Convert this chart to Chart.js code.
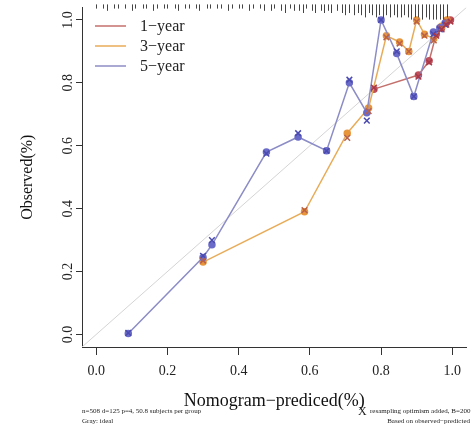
<!DOCTYPE html>
<html>
<head>
<meta charset="utf-8">
<script src="https://cdn.jsdelivr.net/npm/chart.js@4"></script>
<style>
html, body { margin: 0; padding: 0; background: #fff; }
#wrap { width: 472px; height: 432px; position: relative; }
</style>
</head>
<body>
<div id="wrap"><canvas id="calChart"></canvas></div>
<script>
// axis ticks
const xTicks = [0, 0.2, 0.4, 0.6, 0.8, 1.0];
const yTicks = [0, 0.2, 0.4, 0.6, 0.8, 1.0];
const seriesNames = ['1\u2212year', '3\u2212year', '5\u2212year'];

// 1-year: predicted, observed (dots), optimism corrected (x)
const pred1 = [0.78, 0.905, 0.935, 0.955, 0.97, 0.983, 0.995];
const obs1  = [0.78, 0.825, 0.87, 0.955, 0.975, 0.99, 1.0];
const cor1  = [0.785, 0.82, 0.865, 0.95, 0.97, 0.985, 0.995];

// 3-year
const pred3 = [0.30, 0.585, 0.705, 0.765, 0.815, 0.852, 0.878, 0.90, 0.922, 0.948, 0.97, 0.985];
const obs3  = [0.23, 0.39, 0.64, 0.72, 0.95, 0.93, 0.90, 1.0, 0.955, 0.94, 0.98, 1.0];
const cor3  = [0.235, 0.395, 0.625, 0.71, 0.945, 0.925, 0.90, 0.995, 0.95, 0.935, 0.975, 0.995];

// 5-year
const pred5 = [0.09, 0.30, 0.325, 0.478, 0.567, 0.647, 0.711, 0.76, 0.80, 0.844, 0.892, 0.947, 0.965, 0.98];
const obs5  = [0.003, 0.245, 0.285, 0.58, 0.628, 0.584, 0.80, 0.705, 1.0, 0.893, 0.757, 0.962, 0.975, 0.99];
const cor5  = [0.005, 0.25, 0.30, 0.575, 0.64, 0.584, 0.81, 0.68, 1.0, 0.90, 0.757, 0.955, 0.97, 0.985];

// distribution of predicted values (rug on top)
const rugX = [0.00, 0.02, 0.03, 0.05, 0.06, 0.08, 0.10, 0.11, 0.13, 0.14, 0.16, 0.17, 0.19, 0.20, 0.22, 0.23,
              0.25, 0.26, 0.28, 0.29, 0.31, 0.32, 0.34, 0.35, 0.37, 0.38, 0.40, 0.41, 0.43, 0.44, 0.46, 0.47,
              0.49, 0.50, 0.52, 0.53, 0.545, 0.555, 0.57, 0.58, 0.59, 0.605, 0.615, 0.63, 0.64, 0.65, 0.66,
              0.675, 0.69, 0.70, 0.71, 0.725, 0.735, 0.745, 0.755, 0.765, 0.775, 0.785, 0.795, 0.805, 0.815,
              0.825, 0.835, 0.845, 0.855, 0.865, 0.875, 0.885, 0.895, 0.905, 0.915, 0.925, 0.935, 0.945,
              0.955, 0.965, 0.975, 0.985];
const rugN = [1, 1, 2, 1, 1, 1, 2, 1, 1, 1, 2, 1, 1, 1, 1, 2,
              1, 1, 1, 2, 1, 1, 1, 1, 2, 1, 1, 1, 2, 1, 1, 2,
              2, 1, 2, 3, 1, 2, 2, 3, 1, 2, 3, 2, 3, 2, 3,
              2, 3, 4, 3, 4, 3, 4, 5, 3, 4, 5, 4, 5, 4,
              5, 4, 5, 5, 4, 5, 6, 5, 5, 6, 5, 6, 6,
              6, 6, 6, 5];

const lineColors = ['#C4706C', '#E8AC58', '#8C8CC6'];
const dotColors = ['#C0505A', '#E8963C', '#6A6AC8'];
const crossColors = ['#A83848', '#B8604A', '#4A4AB0'];

const pts = (xs, ys) => xs.map((x, i) => ({ x: x, y: ys[i] }));
const serif = "'Liberation Serif', 'DejaVu Serif', serif";

const rugPlugin = {
    id: 'rug',
    afterDatasetsDraw(chart) {
        const ctx = chart.ctx, xs = chart.scales.x, top = chart.chartArea.top - 3;
        ctx.save();
        ctx.strokeStyle = '#444';
        ctx.lineWidth = 1;
        rugX.forEach((v, i) => {
            const px = Math.round(xs.getPixelForValue(v)) + 0.5;
            ctx.beginPath();
            ctx.moveTo(px, top);
            ctx.lineTo(px, top + 2 + rugN[i] * 2.2);
            ctx.stroke();
        });
        ctx.restore();
    }
};

const legendPlugin = {
    id: 'innerLegend',
    afterDraw(chart) {
        const ctx = chart.ctx;
        ctx.save();
        ctx.font = '16px ' + serif;
        ctx.textBaseline = 'middle';
        seriesNames.forEach((name, i) => {
            const y = 26 + i * 20;
            ctx.strokeStyle = lineColors[i];
            ctx.lineWidth = 1.5;
            ctx.beginPath();
            ctx.moveTo(95, y);
            ctx.lineTo(126, y);
            ctx.stroke();
            ctx.fillStyle = '#222';
            ctx.fillText(name, 140, y + 1);
        });
        ctx.restore();
    }
};

const notePlugin = {
    id: 'notes',
    afterDraw(chart) {
        const ctx = chart.ctx;
        ctx.save();
        ctx.fillStyle = '#222';
        ctx.font = '7px ' + serif;
        ctx.textAlign = 'left';
        ctx.fillText('n=508 d=125 p=4, 50.8 subjects per group', 82, 413);
        ctx.fillText('Gray: ideal', 82, 423);
        ctx.fillText('resampling optimism added, B=200', 370, 413);
        ctx.textAlign = 'right';
        ctx.fillText('Based on observed\u2212predicted', 470, 423);
        ctx.textAlign = 'left';
        ctx.font = '12px ' + serif;
        ctx.fillText('X', 358, 415);
        ctx.restore();
    }
};

const datasets = [];
[[pred1, obs1, cor1], [pred3, obs3, cor3], [pred5, obs5, cor5]].forEach((s, i) => {
    datasets.push({
        label: seriesNames[i],
        data: pts(s[0], s[1]),
        showLine: true,
        borderColor: lineColors[i],
        borderWidth: 1.5,
        pointStyle: 'circle',
        pointRadius: 3,
        pointBackgroundColor: dotColors[i],
        pointBorderColor: dotColors[i],
        order: 3 - i
    });
    datasets.push({
        label: seriesNames[i] + ' corrected',
        data: pts(s[0], s[2]),
        showLine: false,
        pointStyle: 'crossRot',
        pointRadius: 4,
        pointBorderWidth: 1.5,
        pointBorderColor: crossColors[i],
        order: 0
    });
});
datasets.push({
    label: 'ideal',
    data: [{ x: -0.04, y: -0.04 }, { x: 1.04, y: 1.04 }],
    showLine: true,
    borderColor: '#D4D4D4',
    borderWidth: 1,
    pointRadius: 0,
    order: 10
});

new Chart(document.getElementById('calChart').getContext('2d'), {
    type: 'scatter',
    data: { datasets: datasets },
    options: {
        responsive: true,
        maintainAspectRatio: false,
        animation: false,
        layout: { padding: { top: 6, right: 2, left: 0, bottom: 0 } },
        plugins: { legend: { display: false }, tooltip: { enabled: false } },
        scales: {
            x: {
                type: 'linear', min: -0.04, max: 1.04,
                afterBuildTicks: s => { s.ticks = xTicks.map(v => ({ value: v })); },
                afterFit: s => { s.height = 85; },
                grid: { drawOnChartArea: false, tickLength: 8, color: '#333' },
                border: { display: true, color: '#333', width: 1 },
                ticks: { callback: v => v.toFixed(1), font: { family: serif, size: 14 }, color: '#222', padding: 8, maxRotation: 0 },
                title: { display: true, text: 'Nomogram\u2212prediced(%)', font: { family: serif, size: 18 }, color: '#111', padding: { bottom: 20 } }
            },
            y: {
                type: 'linear', min: -0.04, max: 1.04,
                afterBuildTicks: s => { s.ticks = yTicks.map(v => ({ value: v })); },
                afterFit: s => { s.width = 82; },
                grid: { drawOnChartArea: false, tickLength: 6, color: '#333' },
                border: { display: true, color: '#333', width: 1 },
                ticks: { callback: v => v.toFixed(1), font: { family: serif, size: 14 }, color: '#222', minRotation: 90, maxRotation: 90, crossAlign: 'center', padding: -1 },
                title: { display: true, text: 'Observed(%)', font: { family: serif, size: 16 }, color: '#111', padding: { top: 18 } }
            }
        }
    },
    plugins: [rugPlugin, legendPlugin, notePlugin]
});
</script>
</body>
</html>
